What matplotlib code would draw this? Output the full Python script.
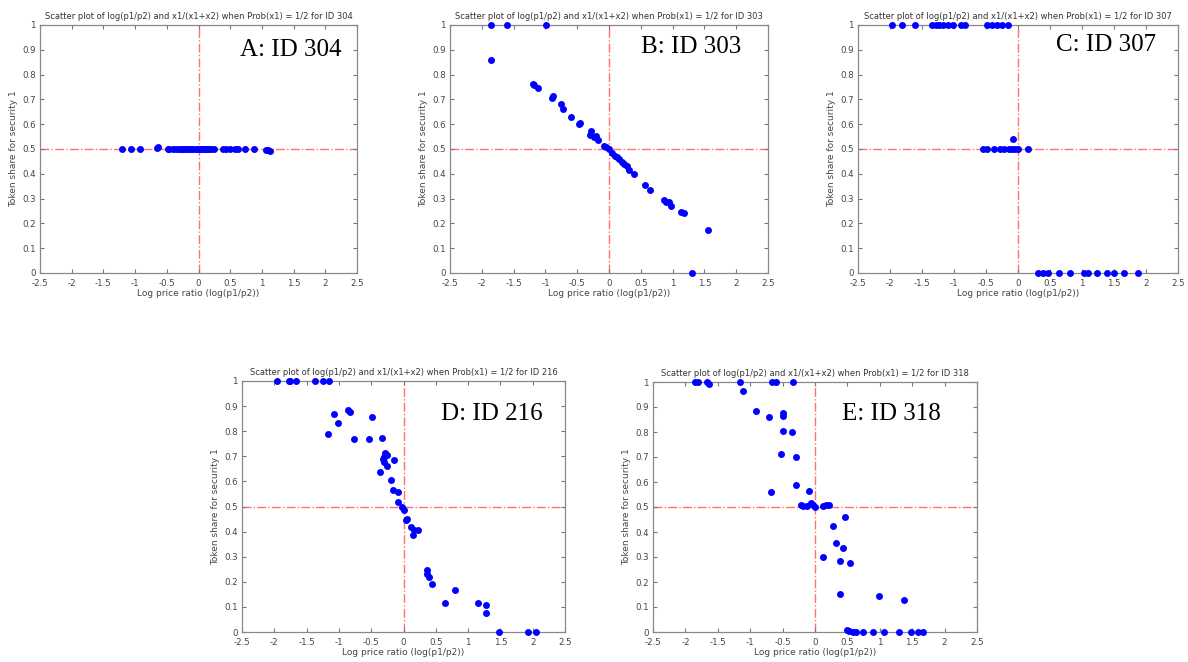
import matplotlib
matplotlib.use("Agg")
import matplotlib.pyplot as plt
from matplotlib.ticker import FuncFormatter

# ---------------- data ----------------
ids = ["304", "303", "307", "216", "318"]
panel_labels = ["A: ID 304", "B: ID 303", "C: ID 307", "D: ID 216", "E: ID 318"]

a_x = [-1.20, -1.07, -0.93, -0.66, -0.64, -0.48, -0.46, -0.40, -0.35, -0.31, -0.27, -0.25,
       -0.21, -0.18, -0.15, -0.12, -0.08, -0.04, -0.01, 0.02, 0.05, 0.08, 0.11, 0.13, 0.17,
       0.20, 0.25, 0.38, 0.43, 0.50, 0.57, 0.62, 0.73, 0.87, 1.07, 1.10, 1.12]
a_y = [0.500, 0.502, 0.502, 0.503, 0.507, 0.502, 0.501, 0.500, 0.500, 0.500, 0.500, 0.500,
       0.500, 0.500, 0.500, 0.500, 0.500, 0.500, 0.500, 0.500, 0.500, 0.500, 0.500, 0.501, 0.500,
       0.502, 0.502, 0.502, 0.500, 0.498, 0.500, 0.500, 0.500, 0.500, 0.497, 0.494, 0.493]

b_x = [-1.86, -1.60, -0.99, -1.86, -1.20, -1.18, -1.11, -0.90, -0.88, -0.76, -0.72, -0.59,
       -0.47, -0.45, -0.29, -0.30, -0.24, -0.21, -0.17, -0.08, -0.04, 0.00, 0.05, 0.09, 0.13,
       0.16, 0.20, 0.24, 0.28, 0.31, 0.39, 0.57, 0.65, 0.86, 0.89, 0.94, 0.98, 1.13, 1.18,
       1.56, 1.31]
b_y = [1.000, 1.000, 1.000, 0.857, 0.764, 0.760, 0.746, 0.707, 0.712, 0.680, 0.660, 0.630,
       0.600, 0.606, 0.574, 0.557, 0.547, 0.553, 0.537, 0.513, 0.507, 0.500, 0.483, 0.473, 0.467,
       0.459, 0.446, 0.438, 0.433, 0.417, 0.400, 0.356, 0.336, 0.296, 0.288, 0.286, 0.270, 0.246, 0.243,
       0.172, 0.000]

c_x = [-1.97, -1.81, -1.61, -1.35, -1.28, -1.23, -1.17, -1.10, -1.01, -0.89, -0.83, -0.49,
       -0.41, -0.33, -0.25, -0.16,
       -0.54, -0.49, -0.38, -0.28, -0.22, -0.14, -0.09, -0.05, 0.00, 0.15, -0.08,
       0.31, 0.39, 0.47, 0.64, 0.82, 1.03, 1.09, 1.23, 1.39, 1.50, 1.66, 1.88]
c_y = [1.0] * 16 + [0.5, 0.5, 0.5, 0.5, 0.5, 0.5, 0.5, 0.5, 0.5, 0.5, 0.54] + [0.0] * 12

d_x = [-1.96, -1.78, -1.75, -1.67, -1.37, -1.25, -1.15,
       -1.08, -1.01, -1.17, -0.86, -0.83, -0.76, -0.54, -0.49, -0.34, -0.36, -0.32, -0.30,
       -0.28, -0.26, -0.30, -0.26, -0.14, -0.19, -0.16, -0.08, -0.08, -0.02, 0.01, 0.04, 0.06,
       0.11, 0.14, 0.165, 0.22, 0.36, 0.37, 0.40, 0.44, 0.64, 0.79, 1.16, 1.28, 1.28,
       1.48, 1.93, 2.05]
d_y = [1.0, 1.0, 1.0, 1.0, 1.0, 1.0, 1.0,
       0.870, 0.834, 0.787, 0.883, 0.877, 0.768, 0.769, 0.857, 0.774, 0.639, 0.691, 0.697,
       0.713, 0.704, 0.678, 0.660, 0.687, 0.604, 0.567, 0.558, 0.518, 0.498, 0.487, 0.445, 0.452,
       0.418, 0.385, 0.405, 0.408, 0.248, 0.232, 0.219, 0.193, 0.116, 0.166, 0.116, 0.106, 0.076,
       0.0, 0.0, 0.0]

e_x = [-1.85, -1.81, -1.67, -1.64, -1.15, -0.66, -0.60, -0.34,
       -1.11, -0.91, -0.71, -0.50, -0.49, -0.49, -0.36, -0.53, -0.29, -0.29, -0.68, -0.10,
       -0.22, -0.19, -0.13, -0.06, -0.03, 0.00, 0.13, 0.17, 0.21,
       0.28, 0.32, 0.47, 0.43, 0.39, 0.54, 0.13, 0.38, 0.98, 1.38,
       0.49, 0.53, 0.59, 0.63, 0.74, 0.90, 1.07, 1.29, 1.48, 1.59, 1.67]
e_y = [1.0, 1.0, 1.0, 0.993, 1.0, 1.0, 1.0, 1.0,
       0.963, 0.885, 0.860, 0.876, 0.866, 0.803, 0.799, 0.713, 0.701, 0.587, 0.559, 0.564,
       0.508, 0.504, 0.504, 0.515, 0.508, 0.500, 0.504, 0.508, 0.508,
       0.424, 0.357, 0.459, 0.338, 0.283, 0.277, 0.300, 0.151, 0.143, 0.127,
       0.009, 0.003, 0.0, 0.0, 0.0, 0.0, 0.0, 0.0, 0.0, 0.0, 0.0]

xs = [a_x, b_x, c_x, d_x, e_x]
ys = [a_y, b_y, c_y, d_y, e_y]

x_ticks = [-2.5, -2, -1.5, -1, -0.5, 0, 0.5, 1, 1.5, 2, 2.5]
y_ticks = [0, 0.1, 0.2, 0.3, 0.4, 0.5, 0.6, 0.7, 0.8, 0.9, 1]

# ---------------- layout ----------------
W, H = 1188, 662
rects_px = [  # left, top, right, bottom in pixels
    (40, 25, 357, 273),
    (450, 25, 768, 273),
    (858, 25, 1178, 273),
    (242, 381, 565, 632),
    (653, 382, 977, 632),
]
label_pos = [(0.63, 0.90), (0.60, 0.91), (0.62, 0.92), (0.616, 0.868), (0.583, 0.872)]

fig = plt.figure(figsize=(W / 100, H / 100), dpi=100)
fmt = FuncFormatter(lambda v, p: f"{v:g}")

for i in range(5):
    l, t, r, b = rects_px[i]
    ax = fig.add_axes([l / W, (H - b) / H, (r - l) / W, (b - t) / H])
    ax.set_xlim(-2.5, 2.5)
    ax.set_ylim(0, 1)
    ax.axvline(0, color="#ff7070", lw=1.0, ls="-.", zorder=1)
    ax.axhline(0.5, color="#ff7070", lw=1.0, ls="-.", zorder=1)
    ax.plot(xs[i], ys[i], "o", color="#0000ff", markersize=5, markeredgewidth=0,
            clip_on=False, zorder=3)
    ax.set_xticks(x_ticks)
    ax.set_yticks(y_ticks)
    ax.xaxis.set_major_formatter(fmt)
    ax.yaxis.set_major_formatter(fmt)
    ax.tick_params(direction="in", top=True, right=True, length=3, width=0.8,
                   color="#777777", labelcolor="#444444", labelsize=6.2)
    ax.tick_params(axis="x", pad=4)
    ax.tick_params(axis="y", pad=3)
    for s in ax.spines.values():
        s.set_color("#888888")
        s.set_linewidth(0.9)
    ax.set_title(f"Scatter plot of log(p1/p2) and x1/(x1+x2) when Prob(x1) = 1/2 for ID {ids[i]}",
                 fontsize=6, color="#333333", pad=4)
    ax.set_xlabel("Log price ratio (log(p1/p2))", fontsize=6.5, color="#444444", labelpad=1)
    ax.set_ylabel("Token share for security 1", fontsize=6.5, color="#444444", labelpad=3)
    lx, ly = label_pos[i]
    ax.text(lx, ly, panel_labels[i], transform=ax.transAxes, ha="left", va="center",
            fontsize=18, family="Liberation Serif", color="black")

fig.savefig("out.png", dpi=100)
